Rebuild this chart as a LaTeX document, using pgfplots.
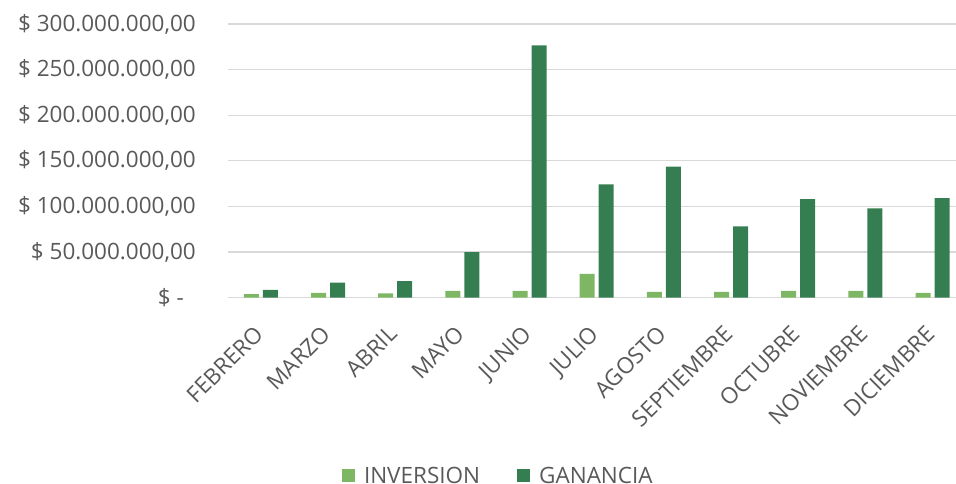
\documentclass[border=0pt]{standalone}
\usepackage{fontspec}
\setmainfont{Open Sans}
\usepackage{pgfplots}
\pgfplotsset{compat=1.18}
\definecolor{invcol}{RGB}{126,183,99}
\definecolor{gancol}{RGB}{53,126,82}
\definecolor{txtgray}{RGB}{89,89,89}
\definecolor{gridgray}{RGB}{217,217,217}

\begin{document}
\begin{tikzpicture}
\begin{axis}[
    at={(228bp,186.5bp)}, anchor=south west,
    scale only axis,
    width=728bp, height=273.5bp,
    ybar=4bp, bar width=15bp,
    xmin=-0.49, xmax=10.35,
    ymin=0, ymax=300,
    xtick={0,...,10},
    xticklabels={FEBRERO,MARZO,ABRIL,MAYO,JUNIO,JULIO,AGOSTO,SEPTIEMBRE,OCTUBRE,NOVIEMBRE,DICIEMBRE},
    ytick={0,50,100,150,200,250,300},
    yticklabels={{\$ -\kern12bp},{\$ 50.000.000,00},{\$ 100.000.000,00},{\$ 150.000.000,00},{\$ 200.000.000,00},{\$ 250.000.000,00},{\$ 300.000.000,00}},
    major tick length=0pt,
    axis lines*=left,
    x axis line style={draw=gridgray, line width=1.3bp},
    y axis line style={draw=none},
    ymajorgrids, grid style={draw=gridgray, line width=1.3bp},
    tick label style={font=\fontsize{22.5bp}{27bp}\selectfont, text=txtgray},
    xticklabel style={xshift=-8bp, rotate=45, anchor=north east, inner sep=0pt},
    xticklabel shift=26.5bp,
    yticklabel style={anchor=east, inner sep=0pt},
    yticklabel shift=32bp,
    legend columns=2,
    legend style={draw=none, fill=none, inner sep=0pt, outer sep=0pt,
        at={(axis description cs:0.1566,-0.652)}, anchor=west,
        font=\fontsize{22.5bp}{27bp}\selectfont, text=txtgray,
        nodes={inner sep=0pt},
        /tikz/every even column/.append style={column sep=37bp}},
    legend image code/.code={\fill[#1] (0bp,-6.5bp) rectangle (13bp,6.5bp); \path (22bp,0bp);},
]
\addplot[fill=invcol, draw=none] coordinates {
    (0,3.8) (1,5.0) (2,4.4) (3,7.3) (4,7.3) (5,26.0)
    (6,6.3) (7,6.3) (8,7.4) (9,7.4) (10,5.2)
};
\addlegendentry{INVERSION}
\addplot[fill=gancol, draw=none] coordinates {
    (0,8.4) (1,16.4) (2,18.0) (3,49.9) (4,276.6) (5,124.2)
    (6,143.5) (7,78.1) (8,108.0) (9,97.8) (10,109.1)
};
\addlegendentry{GANANCIA}
\end{axis}
\pgfresetboundingbox
\path (0,0) rectangle (956bp,484bp);
\end{tikzpicture}
\end{document}
